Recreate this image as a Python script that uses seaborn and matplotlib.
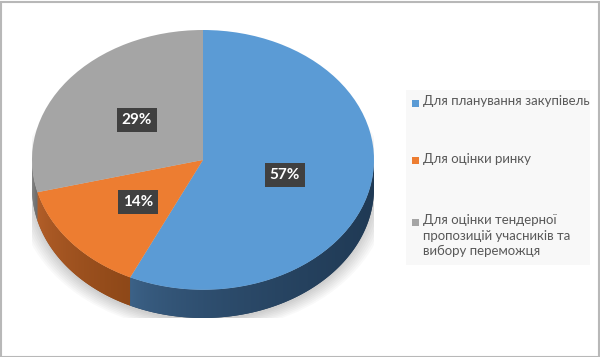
import numpy as np
import matplotlib
matplotlib.use("Agg")
import matplotlib.pyplot as plt
from matplotlib.patches import Rectangle, Ellipse, Polygon
import seaborn as sns

labels = [
    "Для планування закупівель",
    "Для оцінки ринку",
    "Для оцінки тендерної\nпропозицій учасників та\nвибору переможця",
]
shares = [57, 14, 29]
top_colors = ["#5b9bd5", "#ed7d31", "#a5a5a5"]
side_light = ["#3d6389", "#b5602a", "#8a8a8a"]
side_dark = ["#203a55", "#8e4818", "#6a6a6a"]

sns.set_style("white")
plt.rcParams["font.family"] = ["Lato", "DejaVu Sans"]

W, H = 600, 357
fig = plt.figure(figsize=(W / 100, H / 100), dpi=100)

# pie area in pixels
left, right, top, bottom = 32, 374, 30, 318
ry_px = 129.0
depth = 28.0 / ry_px
ax = fig.add_axes([left / W, 1 - bottom / H, (right - left) / W, (bottom - top) / H])

# soft shadow under the pie
for k in range(8):
    s = 1.0 + 0.012 * k
    ax.add_patch(Ellipse((0.0, -depth - 0.02), 2 * s, 2 * s, color="black",
                         alpha=0.025, lw=0, zorder=0))

# side walls of the visible (front) half
total = float(sum(shares))
start = 90.0
bounds = []
for v in shares:
    end = start - 360.0 * v / total
    bounds.append((end, start))
    start = end

for (a0, a1), c_lo, c_hi in zip(bounds, side_light, side_dark):
    for off in (0, 360, -360):
        lo, hi = max(a0 + off, 180.0), min(a1 + off, 360.0)
        if hi <= lo:
            continue
        th = np.radians(np.linspace(lo, hi, 100))
        xs = np.concatenate([np.cos(th), np.cos(th[::-1])])
        ys = np.concatenate([np.sin(th), np.sin(th[::-1]) - depth])
        poly = Polygon(np.column_stack([xs, ys]), closed=True, fc=c_hi, ec="none", zorder=1)
        ax.add_patch(poly)
        x0, x1 = xs.min(), xs.max()
        cmap = matplotlib.colors.LinearSegmentedColormap.from_list("g", [c_lo, c_hi])
        grad = np.linspace(0, 1, 256) ** 0.6
        im = ax.imshow(grad[None, :], cmap=cmap, extent=[x0, x1, ys.min(), ys.max()],
                       aspect="auto", zorder=1.1, interpolation="bilinear")
        im.set_clip_path(poly)

wedges, _ = ax.pie(shares, colors=top_colors, startangle=90, counterclock=False,
                   radius=1.0, center=(0, 0), wedgeprops=dict(lw=0))
for w in wedges:
    w.set_zorder(2)
ax.set_aspect("auto")
ax.set_xlim(-1, 1)
ax.set_ylim(-1 - depth, 1)
ax.axis("off")

# percentage labels
label_pos = [(285, 175), (138, 202), (137, 120)]
for (px, py), v in zip(label_pos, shares):
    fig.text(px / W, 1 - py / H, f"{v}%", ha="center", va="center", color="white",
             fontsize=11, fontweight="bold",
             bbox=dict(boxstyle="square,pad=0.34", fc="#404040", ec="none"))

# legend panel
fig.patches.append(Rectangle((406 / W, 1 - 265 / H), 184 / W, 175 / H,
                             transform=fig.transFigure, fc="#f8f8f8", ec="none", zorder=0))
leg_y = [103, 161, 222]
for lab, col, y in zip(labels, top_colors, leg_y):
    fig.patches.append(Rectangle((412 / W, 1 - (y + 3.5) / H), 7 / W, 7 / H,
                                 transform=fig.transFigure, fc=col, ec="none"))
    fig.text(423 / W, 1 - (y - 8) / H, lab, ha="left", va="top", color="#595959",
             fontsize=9.5, linespacing=1.35)

# outer frame
fig.patches.append(Rectangle((0.5 / W, 0.5 / H), (W - 2) / W, (H - 2) / H,
                             transform=fig.transFigure, fc="none", ec="#b8b8b8", lw=1.5))

fig.savefig("out.png", dpi=100)
